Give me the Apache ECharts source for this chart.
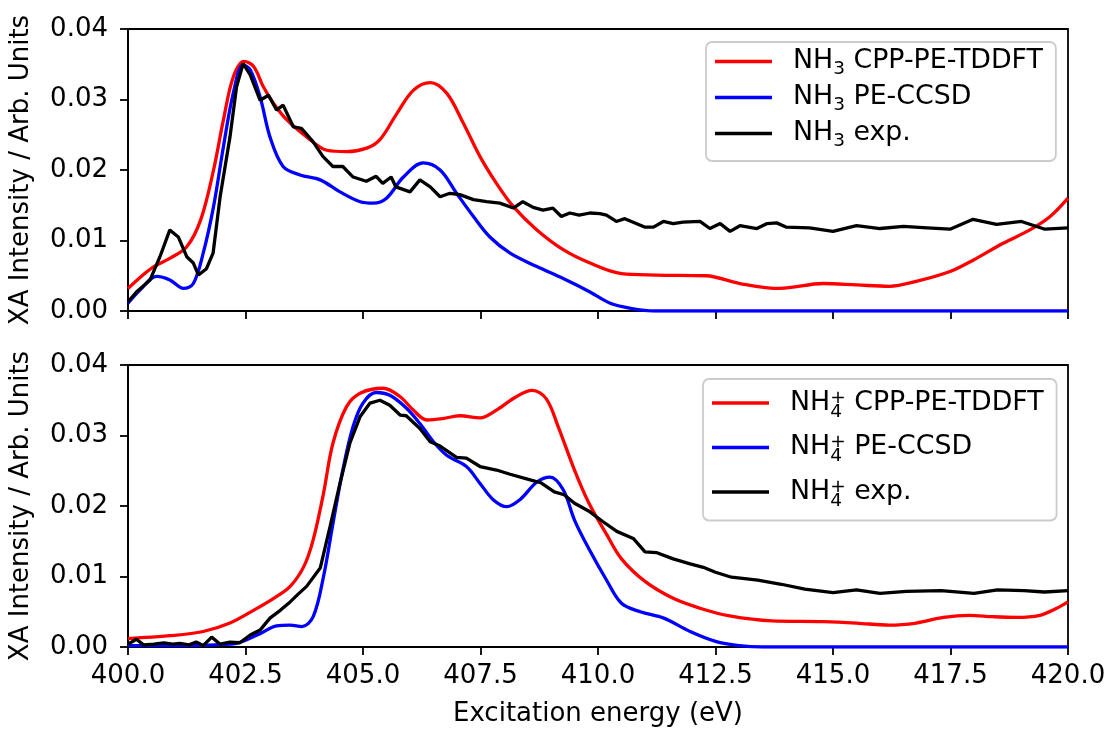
<!DOCTYPE html>
<html>
<head>
<meta charset="utf-8">
<script src="https://cdn.jsdelivr.net/npm/echarts@6/dist/echarts.min.js"></script>
<style>html,body{margin:0;padding:0;background:#fff}#c{width:1110px;height:729px}</style>
</head>
<body>
<div id="c"></div>
<script>
// ---- data (energy eV, intensity arb. units) ----
const xTicks = [400.0, 402.5, 405.0, 407.5, 410.0, 412.5, 415.0, 417.5, 420.0];
const yTicks = [0.00, 0.01, 0.02, 0.03, 0.04];

const nh3Tddft = [[400.0,0.0032],[400.3,0.0050],[400.55,0.0063],[400.9,0.0075],[401.25,0.0091],[401.55,0.0130],[401.82,0.0200],[402.03,0.0271],[402.24,0.0332],[402.47,0.0354],[402.67,0.0347],[402.88,0.0318],[403.09,0.0295],[403.38,0.0271],[403.8,0.0247],[404.23,0.0228],[404.65,0.0226],[405.08,0.0231],[405.36,0.0243],[405.72,0.0280],[406.07,0.0313],[406.43,0.0324],[406.78,0.0309],[407.13,0.0267],[407.49,0.0219],[407.84,0.0181],[408.2,0.0148],[408.7,0.0115],[409.26,0.0087],[409.83,0.0068],[410.5,0.0053],[411.24,0.0051],[412.3,0.0050],[413.02,0.0039],[413.87,0.0032],[414.79,0.0039],[415.5,0.0037],[416.2,0.0035],[416.77,0.0042],[417.49,0.0056],[417.98,0.0072],[418.62,0.0096],[419.19,0.0115],[419.62,0.0134],[420.0,0.0160]];

const nh3Ccsd = [[400.0,0.0011],[400.26,0.0030],[400.61,0.0049],[400.89,0.0044],[401.18,0.0032],[401.39,0.0039],[401.6,0.0082],[401.82,0.0148],[402.03,0.0233],[402.24,0.0309],[402.45,0.0349],[402.6,0.0342],[402.81,0.0304],[403.02,0.0247],[403.3,0.0205],[403.66,0.0193],[404.09,0.0186],[404.51,0.0169],[404.94,0.0155],[405.22,0.0153],[405.5,0.0160],[405.86,0.0190],[406.28,0.0210],[406.64,0.0200],[406.99,0.0167],[407.35,0.0134],[407.7,0.0105],[408.13,0.0082],[408.7,0.0063],[409.26,0.0046],[409.83,0.0027],[410.26,0.0011],[410.68,0.0004],[411.2,0.0000],[412.5,0.0000],[415.0,0.0000],[417.5,0.0000],[420.0,0.0000]];

const nh3Exp = [[400.0,0.0013],[400.18,0.0027],[400.47,0.0044],[400.68,0.0077],[400.89,0.0115],[401.07,0.0105],[401.25,0.0077],[401.39,0.0068],[401.5,0.0051],[401.67,0.0060],[401.81,0.0082],[401.96,0.0162],[402.17,0.0247],[402.31,0.0318],[402.45,0.0351],[402.6,0.0335],[402.81,0.0299],[402.99,0.0306],[403.16,0.0285],[403.3,0.0292],[403.52,0.0261],[403.69,0.0259],[403.94,0.0240],[404.15,0.0219],[404.36,0.0205],[404.57,0.0205],[404.79,0.0190],[405.07,0.0184],[405.28,0.0191],[405.42,0.0181],[405.6,0.0190],[405.7,0.0176],[406.0,0.0169],[406.21,0.0186],[406.43,0.0176],[406.64,0.0162],[406.85,0.0167],[407.06,0.0165],[407.35,0.0158],[407.63,0.0155],[407.91,0.0153],[408.2,0.0146],[408.4,0.0155],[408.62,0.0147],[408.83,0.0143],[409.04,0.0146],[409.22,0.0134],[409.4,0.0139],[409.6,0.0136],[409.83,0.0139],[410.04,0.0138],[410.18,0.0136],[410.39,0.0127],[410.57,0.0131],[410.99,0.0119],[411.18,0.0119],[411.39,0.0127],[411.6,0.0124],[411.81,0.0126],[412.17,0.0127],[412.38,0.0117],[412.6,0.0124],[412.81,0.0113],[413.02,0.0121],[413.38,0.0117],[413.6,0.0124],[413.8,0.0125],[414.0,0.0119],[414.5,0.0118],[415.0,0.0113],[415.5,0.0121],[416.0,0.0117],[416.5,0.0120],[417.0,0.0118],[417.49,0.0116],[417.98,0.0130],[418.48,0.0123],[419.01,0.0127],[419.51,0.0116],[420.0,0.0118]];

const nh4Tddft = [[400.0,0.0012],[400.89,0.0016],[401.6,0.0022],[402.17,0.0034],[402.67,0.0052],[403.1,0.0069],[403.45,0.0086],[403.74,0.0114],[403.94,0.0152],[404.16,0.0218],[404.36,0.0289],[404.65,0.0341],[404.94,0.0360],[405.43,0.0367],[405.79,0.0355],[406.07,0.0336],[406.36,0.0322],[406.7,0.0324],[407.06,0.0328],[407.49,0.0325],[407.84,0.0336],[408.26,0.0355],[408.6,0.0364],[408.9,0.0352],[409.15,0.0313],[409.5,0.0251],[409.8,0.0205],[410.18,0.0160],[410.5,0.0125],[411.0,0.0093],[411.6,0.0069],[412.17,0.0055],[412.8,0.0044],[413.7,0.0037],[414.8,0.0036],[415.5,0.0034],[416.2,0.0031],[416.77,0.0034],[417.35,0.0042],[417.9,0.0045],[418.4,0.0043],[418.9,0.0042],[419.4,0.0045],[419.76,0.0055],[420.0,0.0064]];

const nh4Ccsd = [[400.0,0.0002],[401.0,0.0002],[402.2,0.0004],[402.81,0.0019],[403.16,0.0030],[403.45,0.0031],[403.7,0.0029],[403.94,0.0043],[404.16,0.0100],[404.36,0.0175],[404.57,0.0251],[404.79,0.0313],[405.0,0.0346],[405.28,0.0361],[405.57,0.0357],[405.92,0.0339],[406.21,0.0317],[406.5,0.0291],[406.78,0.0272],[407.2,0.0256],[407.49,0.0232],[407.77,0.0209],[408.06,0.0199],[408.34,0.0209],[408.7,0.0234],[408.98,0.0241],[409.26,0.0223],[409.5,0.0180],[409.8,0.0140],[410.18,0.0095],[410.5,0.0062],[410.9,0.0050],[411.4,0.0041],[411.96,0.0022],[412.5,0.0008],[413.0,0.0002],[413.5,0.0000],[415.0,0.0000],[417.5,0.0000],[420.0,0.0000]];

const nh4Exp = [[400.0,0.0004],[400.18,0.0011],[400.33,0.0003],[400.55,0.0004],[400.76,0.0006],[400.95,0.0004],[401.1,0.0005],[401.3,0.0003],[401.45,0.0007],[401.6,0.0002],[401.78,0.0014],[401.96,0.0004],[402.17,0.0007],[402.38,0.0006],[402.6,0.0017],[402.81,0.0024],[403.02,0.0041],[403.24,0.0052],[403.45,0.0064],[403.62,0.0075],[403.8,0.0086],[404.09,0.0112],[404.3,0.0171],[404.51,0.0232],[404.72,0.0289],[404.94,0.0327],[405.15,0.0346],[405.36,0.0350],[405.57,0.0343],[405.79,0.0329],[405.92,0.0328],[406.21,0.0310],[406.43,0.0291],[406.64,0.0285],[406.99,0.0269],[407.2,0.0268],[407.49,0.0256],[407.84,0.0251],[408.13,0.0245],[408.5,0.0238],[408.78,0.0233],[409.07,0.0220],[409.28,0.0216],[409.5,0.0204],[409.8,0.0193],[410.1,0.0178],[410.4,0.0164],[410.75,0.0154],[411.0,0.0135],[411.24,0.0134],[411.6,0.0125],[411.96,0.0118],[412.24,0.0113],[412.5,0.0106],[412.84,0.0099],[413.4,0.0095],[413.9,0.0089],[414.4,0.0082],[415.0,0.0077],[415.5,0.0081],[416.0,0.0076],[416.56,0.0079],[417.3,0.0080],[418.0,0.0076],[418.5,0.0081],[419.06,0.0080],[419.5,0.0078],[420.0,0.0080]];

const topNames = ['NH3 CPP-PE-TDDFT', 'NH3 PE-CCSD', 'NH3 exp.'];
const botNames = ['NH4+ CPP-PE-TDDFT', 'NH4+ PE-CCSD', 'NH4+ exp.'];
const colors = ['#ff0000', '#0000ff', '#000000'];

// ---- chart ----
const FONT = 'DejaVu Sans';
const FS = 26;
const LFS = 26.8;
const chart = echarts.init(document.getElementById('c'), null, {renderer: 'canvas'});

function xAxisCfg(gi, labels) {
  return {
    type: 'value', gridIndex: gi, min: xTicks[0], max: xTicks[xTicks.length - 1], interval: 2.5,
    axisLine: {show: true, onZero: false, lineStyle: {color: '#000', width: 1.8}},
    axisTick: {show: true, inside: false, length: 8, lineStyle: {color: '#000', width: 1.8}},
    splitLine: {show: false},
    axisLabel: {show: labels, color: '#000', fontFamily: FONT, fontSize: FS, margin: 16,
      formatter: v => v.toFixed(1)},
    name: labels ? 'Excitation energy (eV)' : '',
    nameLocation: 'middle', nameGap: 54,
    nameTextStyle: {color: '#000', fontFamily: FONT, fontSize: FS}
  };
}
function yAxisCfg(gi) {
  return {
    type: 'value', gridIndex: gi, min: yTicks[0], max: yTicks[yTicks.length - 1], interval: 0.01,
    axisLine: {show: true, onZero: false, lineStyle: {color: '#000', width: 1.8}},
    axisTick: {show: true, inside: false, length: 8, lineStyle: {color: '#000', width: 1.8}},
    splitLine: {show: false},
    axisLabel: {color: '#000', fontFamily: FONT, fontSize: FS, margin: 20,
      formatter: v => v.toFixed(2)},
    name: 'XA Intensity / Arb. Units', nameLocation: 'middle', nameGap: 94,
    nameTextStyle: {color: '#000', fontFamily: FONT, fontSize: FS}
  };
}
function lineSeries(name, data, gi, ci, smooth) {
  return {
    name: name, type: 'line', xAxisIndex: gi, yAxisIndex: gi, data: data,
    showSymbol: false, symbol: 'none', smooth: smooth ? 0.35 : false,
    lineStyle: {color: colors[ci], width: 3.3}, itemStyle: {color: colors[ci]},
    z: 2 + ci
  };
}
const legendBase = {
  orient: 'vertical', icon: 'rect', itemWidth: 57, itemHeight: 3.3,
  backgroundColor: 'rgba(255,255,255,0.8)', borderColor: '#cccccc', borderWidth: 1.8, borderRadius: 6,
  selectedMode: false, z: 10
};
const topRich = {
  g: {width: 16, fontSize: LFS, fontFamily: FONT},
  t: {fontSize: LFS, fontFamily: FONT, color: '#000', lineHeight: 34},
  s: {fontSize: 18.5, fontFamily: FONT, color: '#000', lineHeight: 18, height: 18, verticalAlign: 'bottom'}
};
const botRich = {
  g: {width: 16, fontSize: LFS, fontFamily: FONT},
  t: {fontSize: LFS, fontFamily: FONT, color: '#000', lineHeight: 36},
  s: {fontSize: 18.5, fontFamily: FONT, color: '#000', lineHeight: 18, height: 18, width: 0, verticalAlign: 'bottom'},
  p: {fontSize: 18.5, fontFamily: FONT, color: '#000', lineHeight: 26, height: 26, verticalAlign: 'top'}
};

chart.setOption({
  animation: false,
  backgroundColor: '#fff',
  textStyle: {fontFamily: FONT},
  grid: [
    {left: 128, top: 29, width: 940, height: 282, show: true, borderColor: '#000', borderWidth: 1.8},
    {left: 128, top: 365, width: 940, height: 282, show: true, borderColor: '#000', borderWidth: 1.8}
  ],
  xAxis: [xAxisCfg(0, false), xAxisCfg(1, true)],
  yAxis: [yAxisCfg(0), yAxisCfg(1)],
  legend: [
    Object.assign({}, legendBase, {
      data: topNames, left: 706, top: 42, itemGap: 5, padding: [6, 13, 10, 9],
      formatter: n => '{g| }{t|NH}{s|3}{t| ' + n.slice(4) + '}',
      textStyle: {rich: topRich}
    }),
    Object.assign({}, legendBase, {
      data: botNames, left: 703, top: 379, itemGap: 8, padding: [6, 13, 10, 9],
      formatter: n => '{g| }{t|NH}{s|4}{p|+}{t| ' + n.slice(5) + '}',
      textStyle: {rich: botRich}
    })
  ],
  series: [
    lineSeries(topNames[0], nh3Tddft, 0, 0, true),
    lineSeries(topNames[1], nh3Ccsd, 0, 1, true),
    lineSeries(topNames[2], nh3Exp, 0, 2, false),
    lineSeries(botNames[0], nh4Tddft, 1, 0, true),
    lineSeries(botNames[1], nh4Ccsd, 1, 1, true),
    lineSeries(botNames[2], nh4Exp, 1, 2, false)
  ]
});
</script>
</body>
</html>
